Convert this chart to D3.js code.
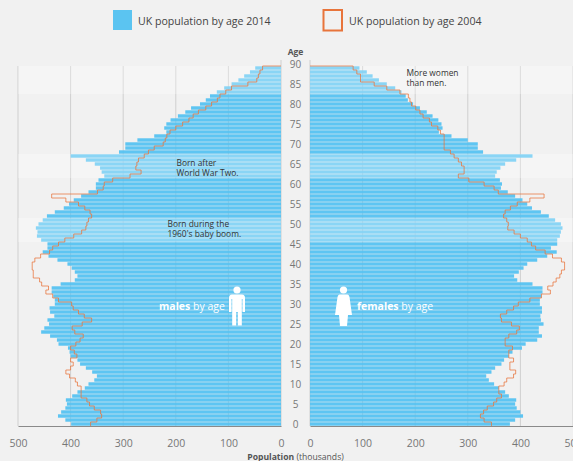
<!DOCTYPE html>
<html>
<head>
<meta charset="utf-8">
<script src="https://cdnjs.cloudflare.com/ajax/libs/d3/7.8.5/d3.min.js"></script>
<style>
  body { margin:0; background:#f1f1f1; }
  text { font-family:"Open Sans",sans-serif; }
</style>
</head>
<body>
<svg id="chart"></svg>
<script>
// every series runs from age 89 down to age 0
var male2014 = [49,59,70,81,94,108,122,135,143,154,
  171,182,196,210,218,222,218,241,273,296,
  296,308,400,371,354,344,341,336,347,352,
  352,366,380,394,403,413,430,445,453,461,
  466,463,464,456,444,444,453,442,425,406,
  398,392,387,392,419,436,436,433,430,430,
  440,439,431,444,441,450,456,439,426,423,
  405,402,400,387,382,371,359,350,355,366,
  373,387,397,409,407,410,418,424,410,399];
var female2014 = [94,108,119,131,146,162,174,182,186,196,
  209,222,233,244,250,252,245,269,300,319,
  319,329,423,392,371,362,355,352,361,365,
  363,376,390,404,413,422,439,454,466,477,
  480,477,475,470,470,458,469,451,432,413,
  406,397,388,394,423,442,442,440,437,437,
  441,441,438,439,444,435,435,441,432,410,
  403,385,378,369,364,352,345,335,340,350,
  359,371,378,392,390,393,400,405,390,380];
var male2004 = [35,40,43,46,63,94,105,116,121,132,
  143,157,167,175,187,200,211,217,220,224,
  241,252,260,271,274,276,266,287,320,336,
  338,349,436,409,385,373,363,360,366,369,
  371,379,394,411,423,434,440,457,468,473,
  473,471,471,459,455,442,447,434,423,398,
  395,385,374,360,378,397,392,376,382,390,
  400,393,388,400,395,400,409,402,391,387,
  380,380,380,369,364,355,343,341,350,362];
var female2004 = [82,89,96,96,122,146,171,187,190,193,
  201,209,215,227,231,243,248,255,255,255,
  255,267,274,282,288,293,293,282,302,331,
  350,358,445,418,394,381,371,368,374,377,
  376,388,400,413,421,429,447,461,478,484,
  484,478,475,468,462,452,457,440,418,396,
  387,374,362,364,383,398,393,378,371,371,
  385,378,378,387,380,380,391,387,374,369,
  359,359,364,355,349,337,330,324,331,345];
var ages = d3.range(90,-1,-1);
var populationTicks = [0,100,200,300,400,500];
var ageTicks = [90,85,80,75,70,65,60,55,50,45,40,35,30,25,20,15,10,5,0];
var shadedAges = [[89,83],[67,62],[51,46]];

var w = 573, h = 461;
var svg = d3.select("svg#chart").attr("width",w).attr("height",h);

var yScale = d3.scaleBand().domain(ages).range([62,426]);
var leftScale = d3.scaleLinear().domain([0,500]).range([281,18]);
var rightScale = d3.scaleLinear().domain([0,500]).range([310,573]);
var barAges = ages.slice(1);

function drawSide(xScale,bars2014,bars2004) {
  var side = svg.append("g");

  side.selectAll("line.grid")
      .data(populationTicks)
      .enter()
      .append("line")
      .classed("grid",true)
      .attr("x1",function(d){ return xScale(d); })
      .attr("x2",function(d){ return xScale(d); })
      .attr("y1",function(d){ return d==0 ? 60 : 66; })
      .attr("y2",426)
      .attr("stroke","#cfcfcf")
      .attr("stroke-width",1);

  side.selectAll("rect.bar")
      .data(bars2014)
      .enter()
      .append("rect")
      .classed("bar",true)
      .attr("x",function(d){ return Math.min(xScale(0),xScale(d)); })
      .attr("y",function(d,i){ return yScale(barAges[i])+0.3; })
      .attr("width",function(d){ return Math.abs(xScale(d)-xScale(0)); })
      .attr("height",yScale.bandwidth()-0.6)
      .attr("fill","#55c2f1")
      .attr("fill-opacity",0.95);

  // white wash over the generations the notes talk about
  side.selectAll("rect.shade")
      .data(shadedAges)
      .enter()
      .append("rect")
      .classed("shade",true)
      .attr("x",Math.min(xScale(0),xScale(500)))
      .attr("y",function(d){ return yScale(d[0]); })
      .attr("width",Math.abs(xScale(500)-xScale(0)))
      .attr("height",function(d){ return yScale(d[1])+yScale.bandwidth()-yScale(d[0]); })
      .attr("fill","#fff")
      .attr("fill-opacity",0.28);

  // stepped outline of the 2004 population
  var steps = [[0,yScale(89)]];
  bars2004.forEach(function(d,i){
    var top = yScale(barAges[i]);
    steps.push([d,top]);
    steps.push([d,top+yScale.bandwidth()]);
  });
  var line = d3.line()
               .x(function(d){ return xScale(d[0]); })
               .y(function(d){ return d[1]; });
  side.append("path")
      .attr("d",line(steps))
      .attr("fill","none")
      .attr("stroke","#e8743b")
      .attr("stroke-opacity",0.75)
      .attr("stroke-width",1);

  var axis = d3.axisBottom(xScale).tickValues(populationTicks).tickSize(0).tickPadding(14);
  var axisG = side.append("g")
      .attr("transform","translate(0,426)")
      .call(axis);
  axisG.select(".domain").attr("stroke","#8a8a8a").attr("stroke-width",1.2);
  axisG.selectAll("text").attr("font-size",10.5).attr("fill","#777");
}

drawSide(leftScale,male2014,male2004);
drawSide(rightScale,female2014,female2004);

var ageAxis = d3.axisRight(yScale).tickValues(ageTicks).tickSize(0).tickPadding(0);
var ageG = svg.append("g")
              .attr("transform","translate(295.5,0.5)")
              .call(ageAxis);
ageG.select(".domain").remove();
ageG.selectAll("text")
    .attr("text-anchor","middle")
    .attr("font-size",10)
    .attr("fill","#777");

svg.append("text").attr("x",295.5).attr("y",55)
   .attr("text-anchor","middle").attr("font-size",8.5).attr("font-weight",700).attr("fill","#555")
   .text("Age");

var xTitle = svg.append("text").attr("x",295.5).attr("y",460)
   .attr("text-anchor","middle").attr("font-size",8.6).attr("fill","#555");
xTitle.append("tspan").attr("font-weight",700).text("Population");
xTitle.append("tspan").text(" (thousands)");

// legend
svg.append("rect").attr("x",113).attr("y",10).attr("width",19).attr("height",20).attr("fill","#5bc4f1");
svg.append("text").attr("x",138).attr("y",25).attr("font-size",10.6).attr("fill","#444").text("UK population by age 2014");
svg.append("rect").attr("x",323.5).attr("y",10).attr("width",18.5).attr("height",20.5)
   .attr("fill","none").attr("stroke","#e8743b").attr("stroke-width",2);
svg.append("text").attr("x",349).attr("y",25).attr("font-size",10.6).attr("fill","#444").text("UK population by age 2004");

// notes
function note(x,y,lines) {
  svg.selectAll(null)
     .data(lines)
     .enter()
     .append("text")
     .attr("x",x)
     .attr("y",function(d,i){ return y+i*10; })
     .attr("font-size",8.4)
     .attr("fill","#333")
     .text(function(d){ return d; });
}
note(176.5,165.5,["Born after","World War Two."]);
note(167.5,226.5,["Born during the","1960's baby boom."]);
note(406.5,75.5,["More women","than men."]);

var maleLabel = svg.append("text").attr("x",159).attr("y",309.5).attr("font-size",10.5).attr("fill","#fff");
maleLabel.append("tspan").attr("font-weight",700).text("males");
maleLabel.append("tspan").text(" by age");
var femaleLabel = svg.append("text").attr("x",357).attr("y",309.5).attr("font-size",10.5).attr("fill","#fff");
femaleLabel.append("tspan").attr("font-weight",700).text("females");
femaleLabel.append("tspan").text(" by age");

// people icons
var man = svg.append("g").attr("transform","translate(237,0)").attr("fill","#fff");
man.append("circle").attr("cx",0).attr("cy",290).attr("r",3.6);
man.append("path").attr("d","M-5,294.5 H5 Q8,294.5 8,298 V312 H5.5 V299 H4.8 V325.5 H0.8 V312 H-0.8 V325.5 H-4.8 V299 H-5.5 V312 H-8 V298 Q-8,294.5 -5,294.5 Z");
var woman = svg.append("g").attr("transform","translate(343.5,0)").attr("fill","#fff");
woman.append("circle").attr("cx",0).attr("cy",290).attr("r",3.6);
woman.append("path").attr("d","M-4,294.5 H4 Q5.5,294.5 6,297 L8.5,315 H4.5 L3.5,326 H-3.5 L-4.5,315 H-8.5 L-6,297 Q-5.5,294.5 -4,294.5 Z");
</script>
</body>
</html>
